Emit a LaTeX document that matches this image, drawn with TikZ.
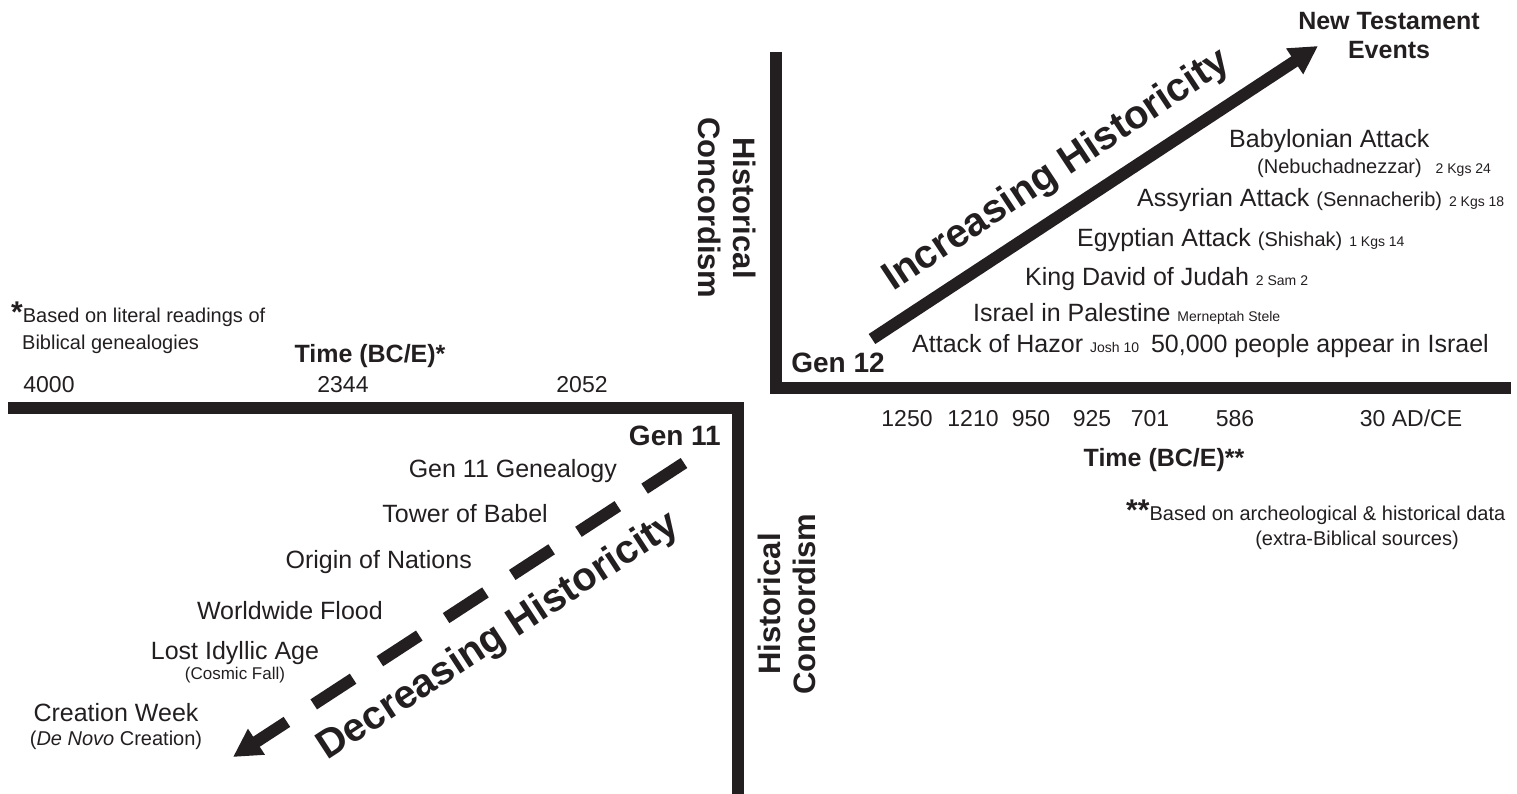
\documentclass[tikz,border=0pt]{standalone}
\usepackage{fontspec}
\setmainfont{Liberation Sans}
\usetikzlibrary{arrows.meta}
\definecolor{ink}{RGB}{35,31,32}
\newcommand{\fsz}[1]{\fontsize{#1}{#1}\selectfont}

\begin{document}
\begin{tikzpicture}[x=1pt, y=-1pt, ink,
	axis/.style={line width=12pt, draw=ink},
	lbl/.style={font=\fsz{25}, inner sep=0pt},
	evt/.style={font=\fsz{25}, inner sep=0pt, anchor=base west},
	tick/.style={font=\fsz{23}, inner sep=0pt, anchor=base},
	hd/.style={font=\fsz{25}\bfseries, inner sep=0pt},
	big/.style={font=\fsz{40}\bfseries, inner sep=0pt, rotate=33.5},
	side/.style={font=\fontsize{31}{35}\selectfont\bfseries, align=center, inner sep=0pt}]
	\useasboundingbox (0,0) rectangle (1517,794);
	% axes
	\coordinate (lt) at (8,408);
	\coordinate (lc) at (738,408);
	\coordinate (lb) at (738,800);
	\coordinate (rt) at (776,52);
	\coordinate (rc) at (776,388);
	\coordinate (rr) at (1511,388);
	\draw[axis] (lt) -- (lc) -- (lb);
	\draw[axis] (rt) -- (rc) -- (rr);
	% arrows
	\coordinate (incS) at (872,339);
	\coordinate (incE) at (1318,46);
	\coordinate (decS) at (684,463);
	\coordinate (decE) at (233,757);
	\draw[axis, -{Triangle[length=28pt, width=29pt]}] (incS) -- (incE);
	\draw[axis, dash pattern=on 47pt off 32pt, -{Triangle[length=28pt, width=29pt]}] (decS) -- (decE);
	\node[big] (incr) at (1057,171) {Increasing Historicity};
	\node[big, rotate=-0.4] (decr) at (499,637) {Decreasing Historicity};
	\node[side, rotate=-90] (hcup) at (727,208) {Historical\\Concordism};
	\node[side, rotate=90] (hclo) at (787,604) {Historical\\Concordism};
	% left side
	\node[lbl, anchor=base east] (g11gen) at (617,477) {Gen 11 Genealogy};
	\node[lbl, anchor=base east] (babel) at (548,522) {Tower of Babel};
	\node[lbl, anchor=base east] (nations) at (472,568) {Origin of Nations};
	\node[lbl, anchor=base east] (flood) at (383,619) {Worldwide Flood};
	\node[lbl, anchor=base] (idyll) at (235,659) {Lost Idyllic Age};
	\node[lbl, font=\fsz{17}, anchor=base] (fall) at (235,679) {(Cosmic Fall)};
	\node[lbl, anchor=base] (week) at (116,721) {Creation Week};
	\node[lbl, font=\fsz{20}, anchor=base] (novo) at (116,745) {(\textit{De Novo} Creation)};
	\node[hd, font=\fsz{28}\bfseries, anchor=base east] (gen11) at (721,445) {Gen 11};
	\node[hd, anchor=base] (timel) at (370,362) {Time (BC/E)*};
	\foreach \x/\t [count=\i] in {49/4000, 343/2344, 582/2052}
		\node[tick] (lt\i) at (\x,392) {\t};
	\node[lbl, font=\fsz{20}, anchor=base west] (fnl) at (11,322) {{\fsz{30}\bfseries *}Based on literal readings of};
	\node[lbl, font=\fsz{20}, anchor=base west] (fnl2) at (22,349) {Biblical genealogies};
	% right side
	\node[hd, font=\fsz{28}\bfseries, anchor=base] (gen12) at (838,372) {Gen 12};
	\node[hd, font=\fontsize{25}{29}\selectfont\bfseries, align=center] (nt) at (1389,36) {New Testament\\Events};
	\node[evt] (babylon) at (1229,148) {Babylonian Attack};
	\node[evt, font=\fsz{20}] (nebu) at (1257,174) {(Nebuchadnezzar)\hspace{14pt}{\fsz{14}2 Kgs 24}};
	\node[evt] (assyria) at (1137,207) {Assyrian Attack {\fsz{20}(Sennacherib)} {\fsz{14}2 Kgs 18}};
	\node[evt] (egypt) at (1077,247) {Egyptian Attack {\fsz{20}(Shishak)} {\fsz{14}1 Kgs 14}};
	\node[evt] (david) at (1025,286) {King David of Judah {\fsz{14}2 Sam 2}};
	\node[evt] (israel) at (973,321) {Israel in Palestine {\fsz{14}Merneptah Stele}};
	\node[evt] (hazor) at (912,352) {Attack of Hazor {\fsz{14}Josh 10}\hspace{5pt} 50,000 people appear in Israel};
	\foreach \x/\t [count=\i] in {907/1250, 973/1210, 1031/950, 1092/925, 1150/701, 1235/586, 1411/{30 AD/CE}}
		\node[tick] (rt\i) at (\x,426) {\t};
	\node[hd, anchor=base] (timer) at (1164,466) {Time (BC/E)**};
	\node[lbl, font=\fsz{20}, anchor=base west] (fnr) at (1126,520) {{\fsz{30}\bfseries **}Based on archeological \& historical data};
	\node[lbl, font=\fsz{20}, anchor=base] (fnr2) at (1357,545) {(extra-Biblical sources)};
\end{tikzpicture}
\end{document}
